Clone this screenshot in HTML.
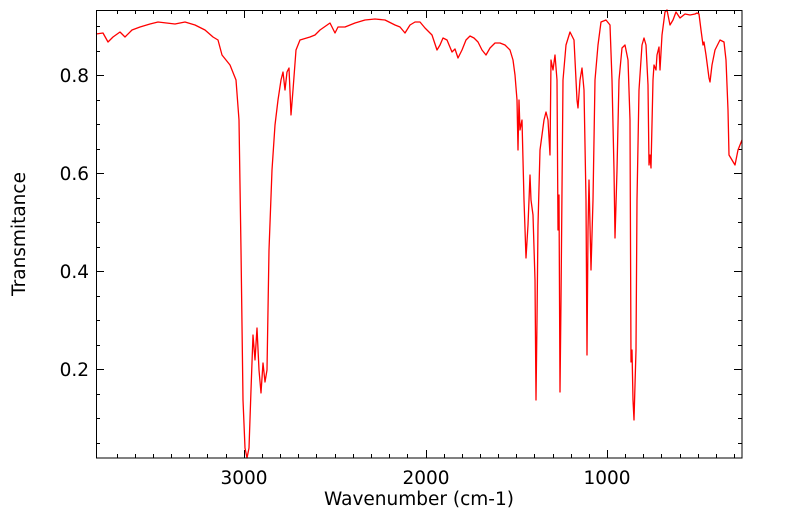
<!DOCTYPE html>
<html><head><meta charset="utf-8"><style>
html,body{margin:0;padding:0;background:#fff;}
svg text{font-family:"DejaVu Sans","Liberation Sans",sans-serif;fill:#000;}
</style></head><body>
<svg width="799" height="516" viewBox="0 0 799 516" xmlns="http://www.w3.org/2000/svg">
<rect x="0" y="0" width="799" height="516" fill="#fff"/>
<g stroke="#000" stroke-width="1">
<path d="M244.5,458V450 M426.5,458V450 M607.5,458V450 M244.5,10V18 M426.5,10V18 M607.5,10V18
M96,75.5H104 M96,173.5H104 M96,271.5H104 M96,369.5H104 M742,75.5H734 M742,173.5H734 M742,271.5H734 M742,369.5H734"/>
<path d="M117.5,458V454 M135.5,458V454 M153.5,458V454 M171.5,458V454 M189.5,458V454 M207.5,458V454 M226.5,458V454 M262.5,458V454 M280.5,458V454 M298.5,458V454 M316.5,458V454 M335.5,458V454 M353.5,458V454 M371.5,458V454 M389.5,458V454 M407.5,458V454 M444.5,458V454 M462.5,458V454 M480.5,458V454 M498.5,458V454 M516.5,458V454 M534.5,458V454 M553.5,458V454 M571.5,458V454 M589.5,458V454 M625.5,458V454 M643.5,458V454 M661.5,458V454 M680.5,458V454 M698.5,458V454 M716.5,458V454 M734.5,458V454
M96,26.5H100 M96,51.5H100 M96,100.5H100 M96,124.5H100 M96,149.5H100 M96,198.5H100 M96,222.5H100 M96,247.5H100 M96,296.5H100 M96,320.5H100 M96,345.5H100 M96,394.5H100 M96,418.5H100 M96,443.5H100
M742,26.5H738 M742,51.5H738 M742,100.5H738 M742,124.5H738 M742,149.5H738 M742,198.5H738 M742,222.5H738 M742,247.5H738 M742,296.5H738 M742,320.5H738 M742,345.5H738 M742,394.5H738 M742,418.5H738 M742,443.5H738"/>
<path d="M117.5,10V14 M135.5,10V14 M153.5,10V14 M171.5,10V14 M189.5,10V14 M207.5,10V14 M226.5,10V14 M262.5,10V14 M280.5,10V14 M298.5,10V14 M316.5,10V14 M335.5,10V14 M353.5,10V14 M371.5,10V14 M389.5,10V14 M407.5,10V14 M444.5,10V14 M462.5,10V14 M480.5,10V14 M498.5,10V14 M516.5,10V14 M534.5,10V14 M553.5,10V14 M571.5,10V14 M589.5,10V14 M625.5,10V14 M643.5,10V14 M661.5,10V14 M680.5,10V14 M698.5,10V14 M716.5,10V14 M734.5,10V14"/>
</g>
<polyline fill="none" stroke="#ff0000" stroke-width="1.3" stroke-linejoin="round" points="96,34 103,33 108,42 113,37 120,32 125,37 132,30 140,27 150,24 158,22 175,24 185,22 195,25 205,30 213,37 218,40 222,55 230,65 236,80 239,120 241,250 243,400 245,448 247,458 249,448 251,390 253,335 255,360 257,328 259,370 261,393 263,363 265,382 267,370 269,250 272,170 275,125 278,100 281,80 283,72 285,90 287,72 289,68 291,115 293,90 296,50 300,40 310,37 315,35 320,30 330,23 335,33 338,27 345,27 355,23 365,20 375,19 385,20 395,25 400,27 405,33 410,25 415,22 420,22 425,28 432,35 437,50 440,45 443,38 447,40 452,52 455,49 458,58 462,50 466,40 470,36 474,38 478,42 482,50 486,55 490,48 495,43 500,43 505,45 510,50 513,60 515,75 517,100 518,150 519,100 520,130 522,120 524,200 526,258 528,225 530,175 531,200 533,215 535,280 536,400 537,320 538,225 540,150 542,135 544,120 546,112 548,120 550,155 551,60 553,70 555,55 557,80 558,230 559,195 560,392 561,300 563,80 566,45 570,32 574,40 577,100 578,108 580,80 582,68 584,90 586,200 587,355 588,230 589,180 591,270 593,200 595,80 598,45 601,22 606,20 610,25 612,80 614,170 615,238 617,170 619,80 622,48 625,45 628,60 630,120 631,362 632,350 633,400 634,420 636,350 637,200 639,90 642,45 644,38 646,45 648,85 649,165 650,155 651,168 653,80 654,65 656,70 657,55 659,47 660,70 662,35 665,12 667,10 670,25 673,20 676,12 680,18 685,14 690,15 695,14 697,13 699,14 701,30 703,45 704,42 706,55 709,78 710,82 712,65 715,50 720,40 724,42 726,60 728,110 729,155 732,160 735,165 738,150 742,140"/>
<rect x="96.5" y="10.5" width="645.5" height="447.5" fill="none" stroke="#000" stroke-width="1"/>
<g font-size="18.5">
<text x="244" y="484" text-anchor="middle">3000</text>
<text x="426" y="484" text-anchor="middle">2000</text>
<text x="607" y="484" text-anchor="middle">1000</text>
<text x="89" y="82" text-anchor="end">0.8</text>
<text x="89" y="180" text-anchor="end">0.6</text>
<text x="89" y="278" text-anchor="end">0.4</text>
<text x="89" y="376" text-anchor="end">0.2</text>
<text x="419" y="505" text-anchor="middle">Wavenumber (cm-1)</text>
<text x="0" y="0" text-anchor="middle" transform="translate(25,234) rotate(-90)">Transmitance</text>
</g>
</svg>
</body></html>
